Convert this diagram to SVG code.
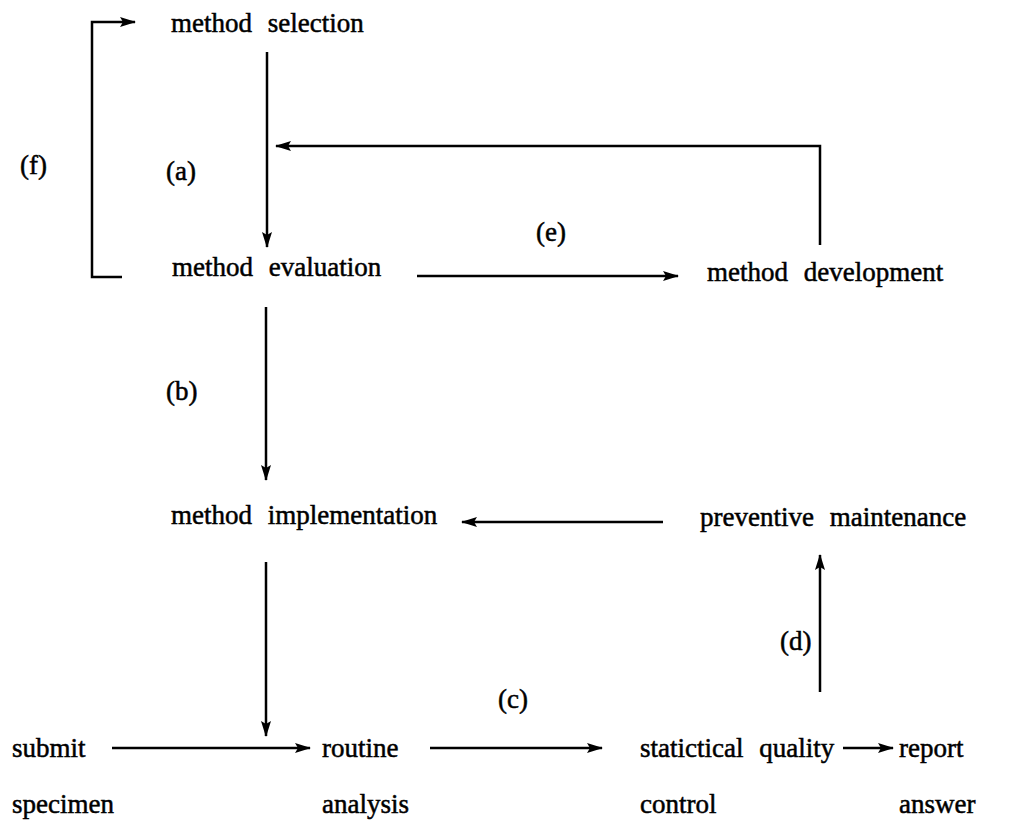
<svg xmlns="http://www.w3.org/2000/svg" width="1031" height="825" viewBox="0 0 1031 825">
<style>
text{font-family:"Liberation Serif","Times New Roman","DejaVu Serif",serif;font-size:27px;fill:#000;stroke:#000;stroke-width:0.5;word-spacing:9px}
.c{fill:none;stroke:#000;stroke-width:2.5}
</style>
<defs>
<marker id="ah" markerUnits="userSpaceOnUse" markerWidth="16" markerHeight="12" viewBox="0 0 16 12" refX="15" refY="6" orient="auto">
<path d="M0,1 L16,6 L0,11 L3,6 z" fill="#000"/>
</marker>
</defs>
<rect width="1031" height="825" fill="#fff"/>
<g id="connectors">
<path class="c" d="M122,277 H92 V22 H135" marker-end="url(#ah)"/>
<path class="c" d="M267,52 V247" marker-end="url(#ah)"/>
<path class="c" d="M820,245 V146 H276" marker-end="url(#ah)"/>
<path class="c" d="M417,276 H678" marker-end="url(#ah)"/>
<path class="c" d="M266,307 V480" marker-end="url(#ah)"/>
<path class="c" d="M663,522 H462" marker-end="url(#ah)"/>
<path class="c" d="M266,562 V736" marker-end="url(#ah)"/>
<path class="c" d="M820,692 V555" marker-end="url(#ah)"/>
<path class="c" d="M112,748 H310" marker-end="url(#ah)"/>
<path class="c" d="M430,748 H602" marker-end="url(#ah)"/>
<path class="c" d="M843,748 H893" marker-end="url(#ah)"/>
</g>
<g id="labels">
<text x="20" y="174">(f)</text>
<text x="166" y="180">(a)</text>
<text x="536" y="241">(e)</text>
<text x="166" y="400">(b)</text>
<text x="780" y="650">(d)</text>
<text x="498" y="708">(c)</text>
</g>
<g id="n-selection"><text x="171" y="32">method selection</text></g>
<g id="n-evaluation"><text x="172" y="276">method evaluation</text></g>
<g id="n-development"><text x="707" y="281">method development</text></g>
<g id="n-implementation"><text x="171" y="524">method implementation</text></g>
<g id="n-preventive"><text x="700" y="526">preventive maintenance</text></g>
<g id="n-submit"><text x="12" y="757">submit</text><text x="12" y="813">specimen</text></g>
<g id="n-routine"><text x="322" y="757">routine</text><text x="322" y="813">analysis</text></g>
<g id="n-sqc"><text x="640" y="757">statictical quality</text><text x="640" y="813">control</text></g>
<g id="n-report"><text x="899" y="757">report</text><text x="899" y="813">answer</text></g>
</svg>
